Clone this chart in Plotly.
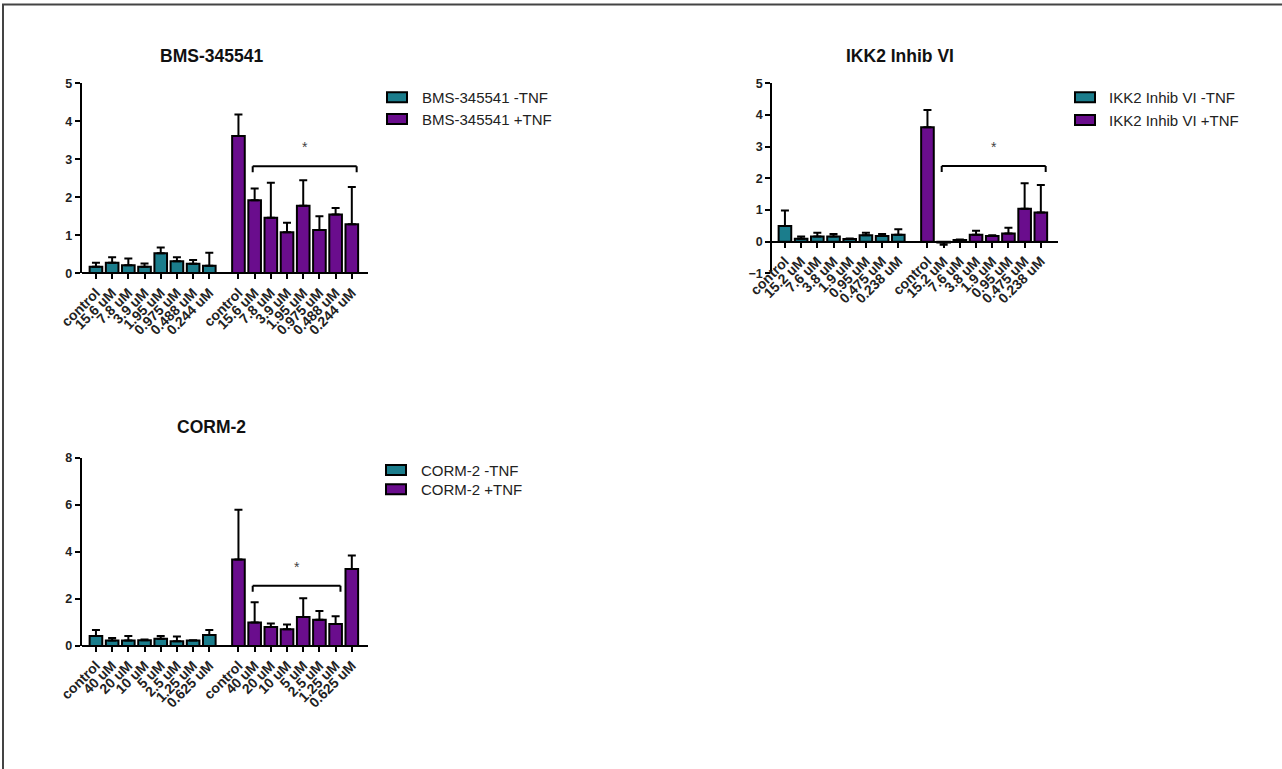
import plotly.graph_objects as go

# ---------------- data ----------------
bms_labels = ["control", "15.6 uM", "7.8 uM", "3.9 uM", "1.95 uM", "0.975 uM", "0.488 uM", "0.244 uM"]
bms_minus = [0.17, 0.28, 0.21, 0.17, 0.53, 0.32, 0.25, 0.20]
bms_minus_err = [0.11, 0.14, 0.18, 0.09, 0.15, 0.10, 0.10, 0.34]
bms_plus = [3.61, 1.92, 1.46, 1.08, 1.78, 1.14, 1.55, 1.29]
bms_plus_err = [0.57, 0.31, 0.92, 0.25, 0.67, 0.36, 0.17, 0.98]

ikk_labels = ["control", "15.2 uM", "7.6 uM", "3.8 uM", "1.9 uM", "0.95 uM", "0.475 uM", "0.238 uM"]
ikk_minus = [0.49, 0.09, 0.16, 0.16, 0.08, 0.20, 0.18, 0.22]
ikk_minus_err = [0.49, 0.07, 0.12, 0.08, 0.02, 0.08, 0.06, 0.17]
ikk_plus = [3.61, -0.03, 0.05, 0.22, 0.18, 0.26, 1.04, 0.92]
ikk_plus_err = [0.55, 0.07, 0.02, 0.12, 0.02, 0.18, 0.80, 0.87]

corm_labels = ["control", "40 uM", "20 uM", "10 uM", "5 uM", "2.5 uM", "1.25 uM", "0.625 uM"]
corm_minus = [0.42, 0.23, 0.23, 0.24, 0.31, 0.20, 0.23, 0.47]
corm_minus_err = [0.26, 0.11, 0.19, 0.04, 0.11, 0.20, 0.01, 0.21]
corm_plus = [3.68, 1.00, 0.81, 0.71, 1.23, 1.12, 0.93, 3.27]
corm_plus_err = [2.11, 0.86, 0.15, 0.20, 0.80, 0.37, 0.33, 0.58]

# significance brackets: (first +TNF index, last +TNF index, height)
bms_bracket = (1, 7, 2.82)
ikk_bracket = (1, 7, 2.39)
corm_bracket = (1, 6, 2.56)

# ---------------- styling ----------------
W, H = 1282, 769
TEAL = "#1b7d8c"
PURPLE = "#6a0d8d"
FONT = "Liberation Sans, Arial, sans-serif"
GROUP_OFFSET = 8.8
BAR_W = 0.78


def fx(p):
    return p / W


def fy(p):
    return 1 - p / H


panels = [
    dict(name="BMS-345541", labels=bms_labels, minus=bms_minus, minus_err=bms_minus_err,
         plus=bms_plus, plus_err=bms_plus_err, bracket=bms_bracket,
         left=81.7, right=368.0, ytop=83.3, ybot=273.3, yrange=[0, 5], dtick=1,
         xrange=[-0.88, 16.8], title_xy=(211, 56),
         legend=dict(sw_x=387, txt_x=420, rows=(97.3, 119.0))),
    dict(name="IKK2 Inhib VI", labels=ikk_labels, minus=ikk_minus, minus_err=ikk_minus_err,
         plus=ikk_plus, plus_err=ikk_plus_err, bracket=ikk_bracket,
         left=772.3, right=1058.0, ytop=83.3, ybot=273.3, yrange=[-1, 5], dtick=1,
         xrange=[-0.78, 16.86], title_xy=(900, 56),
         legend=dict(sw_x=1075, txt_x=1107, rows=(97.3, 120.0))),
    dict(name="CORM-2", labels=corm_labels, minus=corm_minus, minus_err=corm_minus_err,
         plus=corm_plus, plus_err=corm_plus_err, bracket=corm_bracket,
         left=81.7, right=368.0, ytop=457.7, ybot=646.0, yrange=[0, 8], dtick=2,
         xrange=[-0.88, 16.8], title_xy=(211, 427),
         legend=dict(sw_x=386, txt_x=419, rows=(470.0, 489.3))),
]


def up_err(vals, errs):
    # error bars point away from zero
    return [e if v >= 0 else 0 for v, e in zip(vals, errs)]


def down_err(vals, errs):
    return [e if v < 0 else 0 for v, e in zip(vals, errs)]


fig = go.Figure()
shapes = []
annotations = []

for k, p in enumerate(panels):
    sfx = "" if k == 0 else str(k + 1)
    xa, ya = "x" + sfx, "y" + sfx
    n = len(p["labels"])
    pos_minus = [float(i) for i in range(n)]
    pos_plus = [GROUP_OFFSET + i for i in range(n)]

    for pos, vals, errs, col, lab in [
        (pos_minus, p["minus"], p["minus_err"], TEAL, p["name"] + " -TNF"),
        (pos_plus, p["plus"], p["plus_err"], PURPLE, p["name"] + " +TNF"),
    ]:
        fig.add_trace(go.Bar(
            x=pos, y=vals, width=BAR_W, name=lab, showlegend=False,
            marker=dict(color=col, line=dict(color="black", width=2)),
            error_y=dict(type="data", symmetric=False,
                         array=up_err(vals, errs), arrayminus=down_err(vals, errs),
                         color="black", thickness=2, width=4),
            xaxis=xa, yaxis=ya, hoverinfo="skip",
        ))

    y0, y1 = p["yrange"]
    px_per_unit = (p["ybot"] - p["ytop"]) / (y1 - y0)
    zero_px = p["ybot"] - (0 - y0) * px_per_unit

    fig.update_layout(**{
        "xaxis" + sfx: dict(
            domain=[fx(p["left"]), fx(p["right"])], range=p["xrange"],
            anchor="free", position=fy(zero_px), automargin=False,
            showline=True, linecolor="black", linewidth=2,
            ticks="outside", ticklen=5, tickwidth=2, tickcolor="black",
            tickvals=pos_minus + pos_plus, ticktext=p["labels"] + p["labels"],
            tickangle=-45, showgrid=False, zeroline=False,
            tickfont=dict(family=FONT, size=14, color="#222", weight="bold"),
        ),
        "yaxis" + sfx: dict(
            domain=[fy(p["ybot"]), fy(p["ytop"])], range=p["yrange"],
            anchor=xa, dtick=p["dtick"], tick0=0, automargin=False,
            showline=True, linecolor="black", linewidth=2,
            ticks="outside", ticklen=5, tickwidth=2, tickcolor="black",
            showgrid=False, zeroline=False,
            tickfont=dict(family=FONT, size=12.5, color="#222", weight="bold"),
        ),
    })

    # significance bracket over the treated bars
    i0, i1, hb = p["bracket"]
    bx0 = pos_plus[i0] - 0.12
    bx1 = pos_plus[i1] + 0.3
    drop = 6 / px_per_unit
    for (a, b, c, d) in [(bx0, hb, bx1, hb), (bx0, hb, bx0, hb - drop), (bx1, hb, bx1, hb - drop)]:
        shapes.append(dict(type="line", xref=xa, yref=ya, x0=a, y0=b, x1=c, y1=d,
                           line=dict(color="black", width=2)))
    annotations.append(dict(x=(bx0 + bx1) / 2, y=hb, xref=xa, yref=ya, text="*",
                            showarrow=False, yshift=19, yanchor="middle",
                            font=dict(family=FONT, size=14, color="#444")))

    # panel title
    tx, ty = p["title_xy"]
    annotations.append(dict(x=fx(tx), y=fy(ty), xref="paper", yref="paper",
                            text="<b>" + p["name"] + "</b>", showarrow=False,
                            xanchor="center", yanchor="middle",
                            font=dict(family=FONT, size=17.5, color="#111")))

    # legend
    lg = p["legend"]
    for row_y, col, suffix in zip(lg["rows"], [TEAL, PURPLE], [" -TNF", " +TNF"]):
        shapes.append(dict(type="rect", xref="paper", yref="paper",
                           x0=fx(lg["sw_x"]), x1=fx(lg["sw_x"] + 20),
                           y0=fy(row_y - 5), y1=fy(row_y + 5),
                           fillcolor=col, line=dict(color="black", width=2)))
        annotations.append(dict(x=fx(lg["txt_x"]), y=fy(row_y), xref="paper", yref="paper",
                                text=p["name"] + suffix, showarrow=False,
                                xanchor="left", yanchor="middle",
                                font=dict(family=FONT, size=15, color="#222")))

# page frame
shapes.append(dict(type="line", xref="paper", yref="paper", x0=fx(2), x1=1, y0=fy(4.5), y1=fy(4.5),
                   line=dict(color="#444", width=2)))
shapes.append(dict(type="line", xref="paper", yref="paper", x0=fx(3), x1=fx(3), y0=fy(4.5), y1=0,
                   line=dict(color="#444", width=2)))

fig.update_layout(
    width=W, height=H, margin=dict(l=0, r=0, t=0, b=0, autoexpand=False),
    paper_bgcolor="white", plot_bgcolor="white",
    barmode="overlay", showlegend=False,
    shapes=shapes, annotations=annotations,
)

fig.write_html("out.html")
